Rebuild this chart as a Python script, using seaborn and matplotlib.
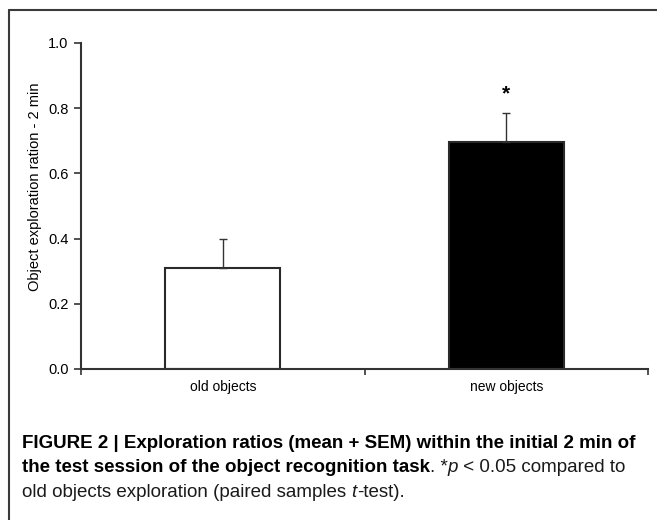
import matplotlib
matplotlib.use("Agg")
import matplotlib.pyplot as plt
from matplotlib.lines import Line2D
import seaborn as sns
import pandas as pd

# Exploration ratios, mean and SEM per object type
categories = ["old objects", "new objects"]
means = [0.31, 0.695]
sems = [0.09, 0.09]
bar_colors = ["white", "black"]
y_ticks = [0.0, 0.2, 0.4, 0.6, 0.8, 1.0]
y_label = "Object exploration ration - 2 min"

sns.set_theme(style="white")
plt.rcParams["font.family"] = ["Liberation Sans", "DejaVu Sans"]

df = pd.DataFrame({"group": categories, "ratio": means})

fig = plt.figure(figsize=(6.57, 5.2), dpi=100)
ax = fig.add_axes([81 / 657, 1 - 369 / 520, (648 - 81) / 657, (369 - 43) / 520])

sns.barplot(data=df, x="group", y="ratio", hue="group", palette=bar_colors,
            width=0.405, edgecolor="#2a2a2a", linewidth=1.5, legend=False,
            errorbar=None, ax=ax)

# upper-only SEM whiskers
ax.errorbar(range(len(categories)), means, yerr=[[0] * len(sems), sems],
            fmt="none", ecolor="#333333", elinewidth=1.0, capsize=3, capthick=1.0)

# significance marker above the new-object bar
ax.text(1, means[1] + sems[1] + 0.03, "*", ha="center", va="bottom",
        fontsize=15, fontweight="bold", color="black")

ax.set_xlim(-0.5, 1.5)
ax.set_ylim(0, 1.0)
ax.set_yticks(y_ticks)
ax.set_yticklabels([f"{t:.1f}" for t in y_ticks])
ax.set_xticks([0, 1])
ax.set_xticklabels(categories)
ax.set_xticks([-0.5, 0.5, 1.5], minor=True)
ax.tick_params(axis="x", which="major", length=0, pad=8, labelsize=10, colors="black")
ax.tick_params(axis="x", which="minor", length=4, width=1.2, color="#333333", direction="out", bottom=True)
ax.tick_params(axis="y", length=5, width=1.2, color="#333333", direction="out", left=True,
               labelsize=10.5, colors="black", pad=4)
ax.set_xlabel("")
ax.set_ylabel(y_label, fontsize=10.5, color="black")
ax.yaxis.set_label_coords(-0.068, 0.56)

for side in ("top", "right"):
    ax.spines[side].set_visible(False)
for side in ("left", "bottom"):
    ax.spines[side].set_color("#333333")
    ax.spines[side].set_linewidth(1.5)
ax.set_facecolor("white")

# panel frame: left and top rules
fig.add_artist(Line2D([8.5 / 657, 8.5 / 657], [0, 1 - 10 / 520], color="#3a3a3a", lw=1.5))
fig.add_artist(Line2D([8.5 / 657, 1], [1 - 10 / 520, 1 - 10 / 520], color="#3a3a3a", lw=1.5))

# caption, built from consecutive text runs
cap_font = ["Liberation Sans", "DejaVu Sans"]
fs = 13.5
x0 = 22 / 657


def run(prev, s, weight="normal", style="normal"):
    return ax.annotate(s, xy=(1, 0), xycoords=prev, va="bottom", ha="left",
                       fontsize=fs, fontweight=weight, fontstyle=style,
                       family=cap_font, color="#1a1a1a", annotation_clip=False)


fig.text(x0, 1 - 448 / 520, "FIGURE 2 | Exploration ratios (mean + SEM) within the initial 2 min of",
         fontsize=fs, fontweight="bold", family=cap_font, color="black", va="baseline")
t = fig.text(x0, 1 - 472 / 520, "the test session of the object recognition task",
             fontsize=fs, fontweight="bold", family=cap_font, color="black", va="baseline")
t = run(t, ". *")
t = run(t, "p", style="italic")
t = run(t, " < 0.05 compared to")
t = fig.text(x0, 1 - 497 / 520, "old objects exploration (paired samples ",
             fontsize=fs, family=cap_font, color="#1a1a1a", va="baseline")
t = run(t, "t", style="italic")
t = run(t, "-test).")

fig.savefig("out.png", dpi=100, facecolor="white")
